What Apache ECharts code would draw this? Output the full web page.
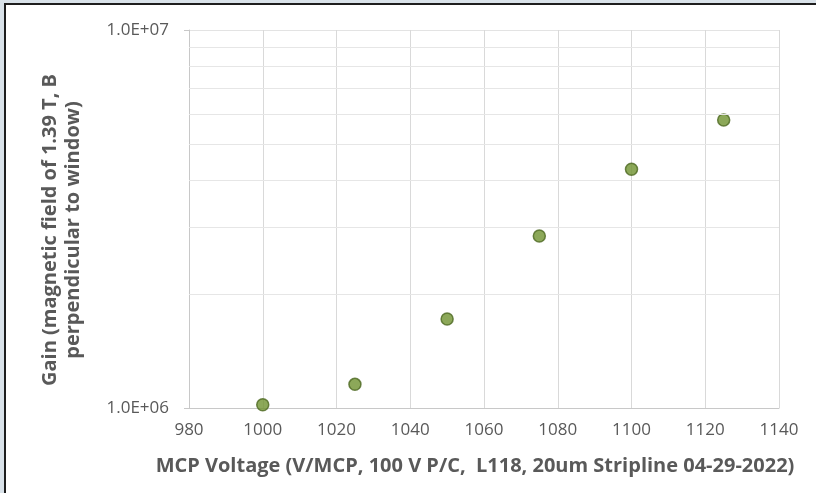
<!DOCTYPE html>
<html><head><meta charset="utf-8">
<script src="https://cdn.jsdelivr.net/npm/echarts@6/dist/echarts.min.js"></script>
<style>
html,body{margin:0;padding:0;width:816px;height:493px;overflow:hidden;background:#d9e2e9;}
#frame{position:absolute;left:4px;top:3px;width:812px;height:490px;background:#fff;border-left:2px solid #1e1e1e;border-top:2px solid #1e1e1e;}
#c{position:absolute;left:0;top:0;width:816px;height:493px;}
</style></head>
<body><div id="frame"></div><div id="c"></div>
<script>
const voltage = [1000, 1025, 1050, 1075, 1100, 1125];
const gain = [1.02e6, 1.155e6, 1.72e6, 2.85e6, 4.28e6, 5.78e6];
const minorGrid = [2e6, 3e6, 4e6, 5e6, 6e6, 7e6, 8e6, 9e6];
const xTitle = 'MCP Voltage (V/MCP, 100 V P/C,  L118, 20um Stripline 04-29-2022)';
const yTitle = 'Gain (magnetic field of 1.39 T, B\nperpendicular to window)';

const font = '"Open Sans", "Noto Sans", sans-serif';
const chart = echarts.init(document.getElementById('c'), null, {renderer: 'canvas'});
chart.setOption({
  backgroundColor: 'transparent',
  animation: false,
  grid: {left: 189, right: 37, top: 30, bottom: 85},
  xAxis: {
    type: 'value', min: 980, max: 1140, interval: 20,
    axisLine: {show: true, lineStyle: {color: '#c8c8c8', width: 1}},
    axisTick: {show: false},
    splitLine: {show: true, lineStyle: {color: '#d9d9d9', width: 1}},
    axisLabel: {color: '#595959', fontSize: 17, fontFamily: font, margin: 14, formatter: v => String(v)},
    name: xTitle, nameLocation: 'middle', nameGap: 48,
    nameTextStyle: {color: '#595959', fontSize: 20, fontWeight: 'bold', fontFamily: font, padding: [0, 18, 0, 0]}
  },
  yAxis: {
    type: 'log', logBase: 10, min: 1e6, max: 1e7,
    axisLine: {show: true, lineStyle: {color: '#c8c8c8', width: 1}},
    axisTick: {show: true, length: 5, lineStyle: {color: '#c8c8c8'}},
    splitLine: {show: true, lineStyle: {color: '#e3e3e3', width: 1}},
    axisLabel: {color: '#595959', fontSize: 17, fontFamily: font, margin: 20,
      formatter: v => { const e = Math.round(Math.log10(v)); return '1.0E+' + (e < 10 ? '0' + e : e); }},
    name: yTitle, nameLocation: 'middle', nameGap: 104,
    nameTextStyle: {color: '#595959', fontSize: 20, fontWeight: 'bold', fontFamily: font, lineHeight: 23, padding: [0, 22, 0, 0]}
  },
  series: [{
    type: 'scatter',
    data: voltage.map((v, i) => [v, gain[i]]),
    symbolSize: 12,
    itemStyle: {color: '#6f922f', borderColor: '#4c6820', borderWidth: 1.5},
    markLine: {
      silent: true, symbol: 'none', animation: false,
      label: {show: false},
      lineStyle: {color: '#e6e6e6', type: 'solid', width: 1.2},
      data: minorGrid.map(v => ({yAxis: v}))
    }
  }]
});
</script></body></html>
